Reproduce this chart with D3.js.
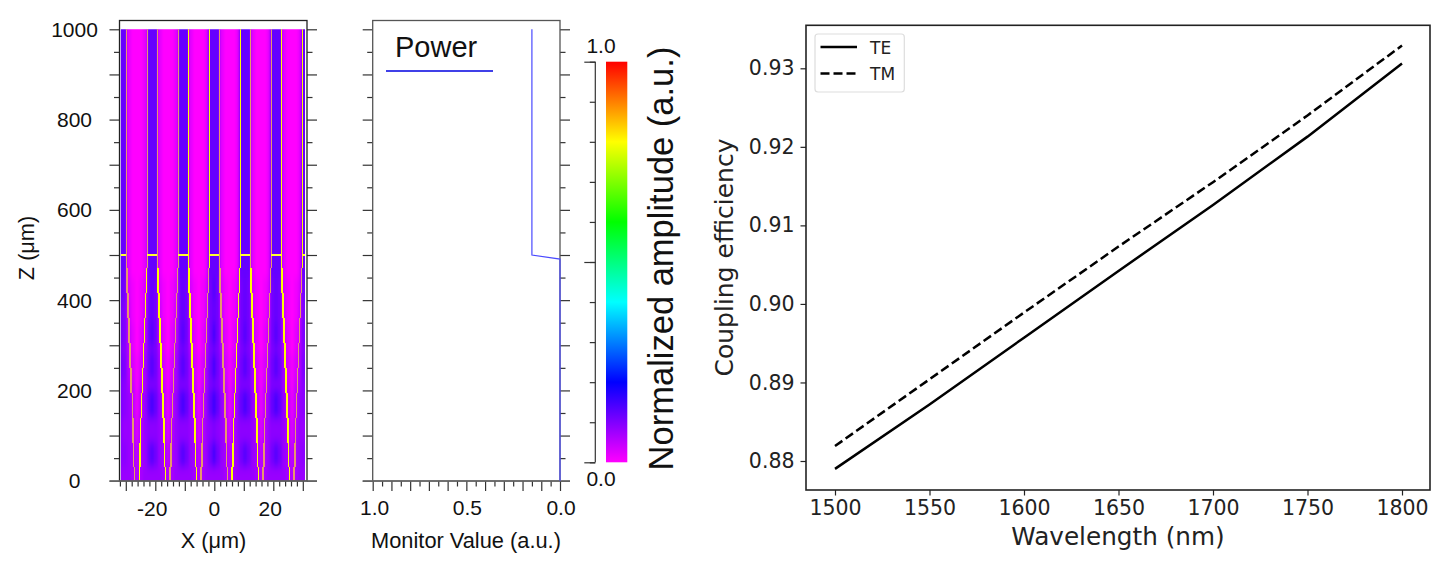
<!DOCTYPE html>
<html>
<head>
<meta charset="utf-8">
<script src="https://cdn.jsdelivr.net/npm/d3@7"></script>
<style>
  html, body { margin: 0; background: #fff; }
  svg { display: block; }
  .sim text { font-family: "Liberation Sans", sans-serif; fill: #111; }
  .eff text { font-family: "DejaVu Sans", sans-serif; fill: #222; }
</style>
</head>
<body>
<svg id="chart" width="1456" height="562"></svg>
<script>
// right panel: coupling efficiency
const wavelengths = [1500, 1550, 1600, 1650, 1700, 1750, 1800];
const teEfficiency = [0.879, 0.8872, 0.8957, 0.9042, 0.9126, 0.9213, 0.9306];
const tmEfficiency = [0.8819, 0.8904, 0.8989, 0.9073, 0.9155, 0.9240, 0.9329];
const wavelengthTicks = [1500, 1550, 1600, 1650, 1700, 1750, 1800];
const efficiencyTicks = [0.88, 0.89, 0.90, 0.91, 0.92, 0.93];

// middle panel: monitor
const powerZ = [1000, 500, 491, 0];
const powerValue = [0.15, 0.15, 0, 0];

// colour bar
const colorStops = [0, 0.2, 0.4, 0.6, 0.8, 1];
const colorNames = ["#ff00ff", "#0000ff", "#00ffff", "#00ff00", "#ffff00", "#ff0000"];
const colorbarTicks = [0, 0.1, 0.2, 0.3, 0.4, 0.5, 0.6, 0.7, 0.8, 0.9, 1];

// left panel: taper edges
const wedgeCenters = [-26.25, -15.75, -5.25, 5.25, 15.75, 26.25];
const tierZ = [500, 471, 416, 360, 306, 250, 195, 138, 84, 31, 0];
const tierHalfWidth = [3.56, 3.33, 3.0, 2.6, 2.26, 1.92, 1.58, 1.3, 1.05, 0.8];
const upperEdgeColors = ["t", "t", "t", "t", "y", "y", "t", "y", "t", "t", "y", "y"];
const lowerEdgeColors = ["t", "y", "y", "t", "y", "t", "t", "y", "y", "t", "y", "t"];

// left panel: field amplitude x100, one row per z band, bottom row first
const fieldZEdges = [-80, 30, 85, 140, 200, 225, 280, 300, 350, 400, 450, 500, 1080];
const fieldColumnStep = 1.3125;
const fieldValues = [
  [8,8,8,7,6,7,8,8, 8,8,8,7,6,7,8,8, 8,8,8,7,6,7,8,8, 8,8,8,7,6,7,8,8, 8,8,8,7,6,7,8,8, 8,8,8,7,6,7,8,8, 8],
  [9,9,8,7,5,7,8,11, 13,11,8,7,5,7,8,11, 13,11,8,7,5,7,8,11, 14,11,8,7,5,7,8,11, 13,11,8,7,5,7,8,11, 13,11,8,7,5,7,8,9, 9],
  [9,8,8,6,3,6,8,9, 9,9,8,6,3,6,8,9, 9,9,8,6,3,6,8,9, 10,9,8,6,3,6,8,9, 9,9,8,6,3,6,8,9, 9,9,8,6,3,6,8,8, 9],
  [10,9,8,5,2,5,8,12, 14,12,8,5,2,5,8,12, 14,12,8,5,2,5,8,12, 15,12,8,5,2,5,8,12, 14,12,8,5,2,5,8,12, 14,12,8,5,2,5,8,9, 10],
  [10,9,7,4,1,4,7,10, 10,10,7,4,1,4,7,10, 10,10,7,4,1,4,7,10, 11,10,7,4,1,4,7,10, 10,10,7,4,1,4,7,10, 10,10,7,4,1,4,7,9, 10],
  [11,10,6,3,1,3,7,11, 13,11,7,3,1,3,7,11, 13,11,7,3,1,3,7,11, 14,11,7,3,1,3,7,11, 13,11,7,3,1,3,7,11, 13,11,7,3,1,3,6,10, 11],
  [10,9,6,2,0,2,6,10, 11,10,6,2,0,2,6,10, 11,10,6,2,0,2,6,10, 11,10,6,2,0,2,6,10, 11,10,6,2,0,2,6,10, 11,10,6,2,0,2,6,9, 10],
  [11,10,5,2,0,2,5,11, 13,11,5,2,0,2,5,11, 13,11,5,2,0,2,5,11, 14,11,5,2,0,2,5,11, 13,11,5,2,0,2,5,11, 13,11,5,2,0,2,5,10, 11],
  [11,10,4,1,0,1,4,11, 12,11,4,1,0,1,4,11, 12,11,4,1,0,1,4,11, 12,11,4,1,0,1,4,11, 12,11,4,1,0,1,4,11, 12,11,4,1,0,1,4,10, 11],
  [12,11,3,1,0,1,3,11, 12,11,3,1,0,1,3,11, 12,11,3,1,0,1,3,11, 13,11,3,1,0,1,3,11, 12,11,3,1,0,1,3,11, 12,11,3,1,0,1,3,11, 12],
  [12,12,2,0,0,0,2,12, 12,12,2,0,0,0,2,12, 12,12,2,0,0,0,2,12, 12,12,2,0,0,0,2,12, 12,12,2,0,0,0,2,12, 12,12,2,0,0,0,2,12, 12],
  [12,12,2,0,0,0,2,12, 12,12,2,0,0,0,2,12, 12,12,2,0,0,0,2,12, 12,12,2,0,0,0,2,12, 12,12,2,0,0,0,2,12, 12,12,2,0,0,0,2,12, 12]
];

const svg = d3.select("#chart");
const edgeColor = { t: "#e8986a", y: "#ffff00" };
const amplitudeColor = d3.scaleLinear().domain(colorStops).range(colorNames);

// shared z scale for the two simulation panels
const zScale = d3.scaleLinear().domain([0, 1000]).range([480.7, 29.3]);
const zMajor = d3.range(0, 1001, 100);
const zMinor = d3.range(50, 1000, 100);
const zLabels = d3.range(0, 1001, 200);

function tickGroup(parent, axis, size, transform) {
  const g = parent.append("g").attr("transform", transform).call(axis.tickSize(size).tickFormat(""));
  g.select(".domain").remove();
  g.selectAll("line").attr("stroke", "#333").attr("stroke-width", 1.2);
  return g;
}

function zTicks(parent, left, right) {
  tickGroup(parent, d3.axisLeft(zScale).tickValues(zMajor), 10, `translate(${left},0)`);
  tickGroup(parent, d3.axisLeft(zScale).tickValues(zMinor), 5.5, `translate(${left},0)`);
  tickGroup(parent, d3.axisRight(zScale).tickValues(zMajor), 10, `translate(${right},0)`);
  tickGroup(parent, d3.axisRight(zScale).tickValues(zMinor), 5.5, `translate(${right},0)`);
}

// ---- left panel
const fieldPanel = svg.append("g").attr("class", "sim");
const xScale = d3.scaleLinear().domain([-30, 30]).range([125.8, 302.8]);
const defs = svg.append("defs");
defs.append("clipPath").attr("id", "field-clip").append("rect")
  .attr("x", xScale(-31.7)).attr("y", zScale(1000))
  .attr("width", xScale(30.75) - xScale(-31.7)).attr("height", zScale(0) - zScale(1000));
const blur = defs.append("filter").attr("id", "field-blur")
  .attr("filterUnits", "userSpaceOnUse").attr("x", 80).attr("y", -60).attr("width", 280).attr("height", 620);
blur.append("feGaussianBlur").attr("stdDeviation", "0.8 5");

const fieldCells = fieldValues.flatMap((row, r) => row.map((v, c) => ({ r, c, v })));
fieldPanel.append("g").attr("clip-path", "url(#field-clip)")
  .append("g").attr("filter", "url(#field-blur)")
  .selectAll("rect").data(fieldCells).join("rect")
  .attr("shape-rendering", "crispEdges")
  .attr("x", d => xScale(d.c === 0 ? -40 : -31.5 + (d.c - 0.5) * fieldColumnStep))
  .attr("width", d => xScale(d.c === 0 ? -31.5 + 0.5 * fieldColumnStep : d.c === 48 ? 40 : -31.5 + (d.c + 0.5) * fieldColumnStep)
    - xScale(d.c === 0 ? -40 : -31.5 + (d.c - 0.5) * fieldColumnStep))
  .attr("y", d => zScale(fieldZEdges[d.r + 1]))
  .attr("height", d => zScale(fieldZEdges[d.r]) - zScale(fieldZEdges[d.r + 1]))
  .attr("fill", d => amplitudeColor(d.v / 100));

// taper edges, upper straight part and stepped lower part
const stepLine = d3.line().x(d => xScale(d[0])).y(d => zScale(d[1]));
const edgeLayer = fieldPanel.append("g").attr("clip-path", "url(#field-clip)")
  .attr("fill", "none").attr("stroke-width", 1.4).attr("shape-rendering", "crispEdges");
wedgeCenters.forEach((center, w) => {
  [-1, 1].forEach((side, s) => {
    const edge = w * 2 + s;
    const upper = [[center + side * tierHalfWidth[0], 1000], [center + side * tierHalfWidth[0], tierZ[1]]];
    edgeLayer.append("path").attr("d", stepLine(upper)).attr("stroke", edgeColor[upperEdgeColors[edge]]);
    // each tier is its own straight piece, the steps stay open like in the simulator plot
    tierHalfWidth.slice(1).forEach((h, i) => {
      const piece = [[center + side * h, tierZ[i + 1]], [center + side * h, tierZ[i + 2]]];
      edgeLayer.append("path").attr("d", stepLine(piece)).attr("stroke", edgeColor[lowerEdgeColors[edge]]);
    });
  });
});
// bars across the core tops at z = 500
wedgeCenters.concat([36.75]).forEach((center, i) => {
  const from = i === 0 ? -31.7 : wedgeCenters[i - 1] + tierHalfWidth[0];
  const to = center - tierHalfWidth[0];
  edgeLayer.append("path").attr("d", stepLine([[from, 500], [to, 500]])).attr("stroke", "#ffff30");
});

zTicks(fieldPanel, 119.5, 307);
tickGroup(fieldPanel, d3.axisBottom(xScale).tickValues(d3.range(-30, 31, 10)), 10, "translate(0,481)");
tickGroup(fieldPanel, d3.axisBottom(xScale).tickValues(d3.range(-32, 31, 2).filter(d => d % 10 !== 0)), 5.5, "translate(0,481)");
fieldPanel.append("rect").attr("x", 119.5).attr("y", 20.5).attr("width", 187.5).attr("height", 460.5)
  .attr("fill", "none").attr("stroke", "#222").attr("stroke-width", 1.3);
fieldPanel.append("line").attr("x1", 109.5).attr("x2", 317).attr("y1", 481).attr("y2", 481).attr("stroke", "#666").attr("stroke-width", 1.5);

fieldPanel.selectAll(".zl").data(zLabels).join("text").attr("class", "zl")
  .attr("x", 74.5).attr("y", d => zScale(d) + 7.5).attr("text-anchor", "middle").attr("font-size", 21).text(d => d);
fieldPanel.selectAll(".xl").data([-20, 0, 20]).join("text").attr("class", "xl")
  .attr("x", d => xScale(d) - (d === 0 ? 0 : 3)).attr("y", 516).attr("text-anchor", "middle").attr("font-size", 21).text(d => d);
fieldPanel.append("text").attr("x", 213.5).attr("y", 548).attr("text-anchor", "middle").attr("font-size", 21.7).text("X (μm)");
fieldPanel.append("text").attr("transform", "translate(34,248) rotate(-90)").attr("text-anchor", "middle").attr("font-size", 21.7).text("Z (μm)");

// ---- middle panel
const monitorPanel = svg.append("g").attr("class", "sim");
const monitorScale = d3.scaleLinear().domain([1, 0]).range([372.7, 560]);
zTicks(monitorPanel, 372.7, 560);
tickGroup(monitorPanel, d3.axisBottom(monitorScale).tickValues(d3.range(0, 11).map(d => d / 10)), 10, "translate(0,481)");
tickGroup(monitorPanel, d3.axisBottom(monitorScale).tickValues(d3.range(0, 10).map(d => d / 10 + 0.05)), 5.5, "translate(0,481)");
monitorPanel.append("rect").attr("x", 372.7).attr("y", 20.5).attr("width", 187.3).attr("height", 460.5)
  .attr("fill", "none").attr("stroke", "#555").attr("stroke-width", 1.3);
monitorPanel.append("line").attr("x1", 362.7).attr("x2", 570).attr("y1", 481).attr("y2", 481).attr("stroke", "#666").attr("stroke-width", 1.5);
monitorPanel.append("path")
  .datum(d3.zip(powerValue, powerZ))
  .attr("d", d3.line().x(d => monitorScale(d[0])).y(d => zScale(d[1])))
  .attr("fill", "none").attr("stroke", "#4a4aff").attr("stroke-width", 1.2);
monitorPanel.append("line").attr("x1", 386).attr("x2", 493).attr("y1", 71).attr("y2", 71).attr("stroke", "#0000e0").attr("stroke-width", 1.6);
monitorPanel.append("text").attr("x", 395).attr("y", 57).attr("font-size", 29).text("Power");
monitorPanel.selectAll(".ml").data([1, 0.5, 0]).join("text").attr("class", "ml")
  .attr("x", d => monitorScale(d) + (d === 1 ? 2 : 1)).attr("y", 515).attr("text-anchor", "middle").attr("font-size", 21)
  .text(d3.format(".1f"));
monitorPanel.append("text").attr("x", 466).attr("y", 548).attr("text-anchor", "middle").attr("font-size", 21.8).text("Monitor Value (a.u.)");

// ---- colour bar
const barPanel = svg.append("g").attr("class", "sim");
const barScale = d3.scaleLinear().domain([0, 1]).range([462.3, 61.7]);
const gradient = defs.append("linearGradient").attr("id", "bar-gradient")
  .attr("x1", 0).attr("x2", 0).attr("y1", 1).attr("y2", 0);
colorStops.forEach((stop, i) => {
  gradient.append("stop").attr("offset", stop).attr("stop-color", colorNames[i]);
});
barPanel.append("rect").attr("x", 606).attr("width", 21.3).attr("y", barScale(1))
  .attr("height", barScale(0) - barScale(1)).attr("fill", "url(#bar-gradient)");
tickGroup(barPanel, d3.axisLeft(barScale).tickValues(colorbarTicks), 5.5, "translate(595.3,0)");
tickGroup(barPanel, d3.axisLeft(barScale).tickValues([0, 0.5, 1]), 11, "translate(595.3,0)");
barPanel.append("line").attr("x1", 595.3).attr("x2", 595.3).attr("y1", barScale(1)).attr("y2", barScale(0)).attr("stroke", "#333").attr("stroke-width", 1.2);
barPanel.append("text").attr("x", 601).attr("y", 53).attr("text-anchor", "middle").attr("font-size", 21).text("1.0");
barPanel.append("text").attr("x", 601).attr("y", 486).attr("text-anchor", "middle").attr("font-size", 21).text("0.0");
barPanel.append("text").attr("transform", "translate(673,258.5) rotate(-90)").attr("text-anchor", "middle")
  .attr("font-size", 34.5).text("Normalized amplitude (a.u.)");

// ---- right panel
const effPanel = svg.append("g").attr("class", "eff");
const waveScale = d3.scaleLinear().domain([1500, 1800]).range([835, 1402]);
const effScale = d3.scaleLinear().domain([0.88, 0.93]).range([461, 68.3]);

const waveAxis = effPanel.append("g").attr("transform", "translate(0,490)")
  .call(d3.axisBottom(waveScale).tickValues(wavelengthTicks).tickSize(5.5).tickPadding(5).tickFormat(d3.format("d")));
const effAxis = effPanel.append("g").attr("transform", "translate(806,0)")
  .call(d3.axisLeft(effScale).tickValues(efficiencyTicks).tickSize(5.5).tickPadding(6).tickFormat(d3.format(".2f")));
[waveAxis, effAxis].forEach(g => {
  g.select(".domain").remove();
  g.selectAll("line").attr("stroke", "#222").attr("stroke-width", 1.2);
  g.selectAll("text").attr("font-size", 20.5).attr("font-family", '"DejaVu Sans", sans-serif').attr("fill", "#222");
});
effPanel.append("rect").attr("x", 806).attr("y", 25.3).attr("width", 624).attr("height", 464.7)
  .attr("fill", "none").attr("stroke", "#222").attr("stroke-width", 1.6);

const effLine = d3.line().x((d, i) => waveScale(wavelengths[i])).y(d => effScale(d));
effPanel.append("path").attr("d", effLine(teEfficiency)).attr("fill", "none").attr("stroke", "#000").attr("stroke-width", 2.5);
effPanel.append("path").attr("d", effLine(tmEfficiency)).attr("fill", "none").attr("stroke", "#000").attr("stroke-width", 2.5).attr("stroke-dasharray", "9,4");

effPanel.append("rect").attr("x", 815).attr("y", 34).attr("width", 89.3).attr("height", 58).attr("rx", 3)
  .attr("fill", "#fff").attr("stroke", "#ddd").attr("stroke-width", 1.2);
[["TE", null, 47, 53.5], ["TM", "9,4", 73.5, 79.5]].forEach(([name, dash, ly, ty]) => {
  effPanel.append("line").attr("x1", 820.5).attr("x2", 857).attr("y1", ly).attr("y2", ly)
    .attr("stroke", "#000").attr("stroke-width", 2.5).attr("stroke-dasharray", dash);
  effPanel.append("text").attr("x", 870).attr("y", ty).attr("font-size", 17).text(name);
});
effPanel.append("text").attr("x", 1118).attr("y", 545).attr("text-anchor", "middle").attr("font-size", 24.7).text("Wavelength (nm)");
effPanel.append("text").attr("transform", "translate(733,257.5) rotate(-90)").attr("text-anchor", "middle")
  .attr("font-size", 25).text("Coupling efficiency");
</script>
</body>
</html>
